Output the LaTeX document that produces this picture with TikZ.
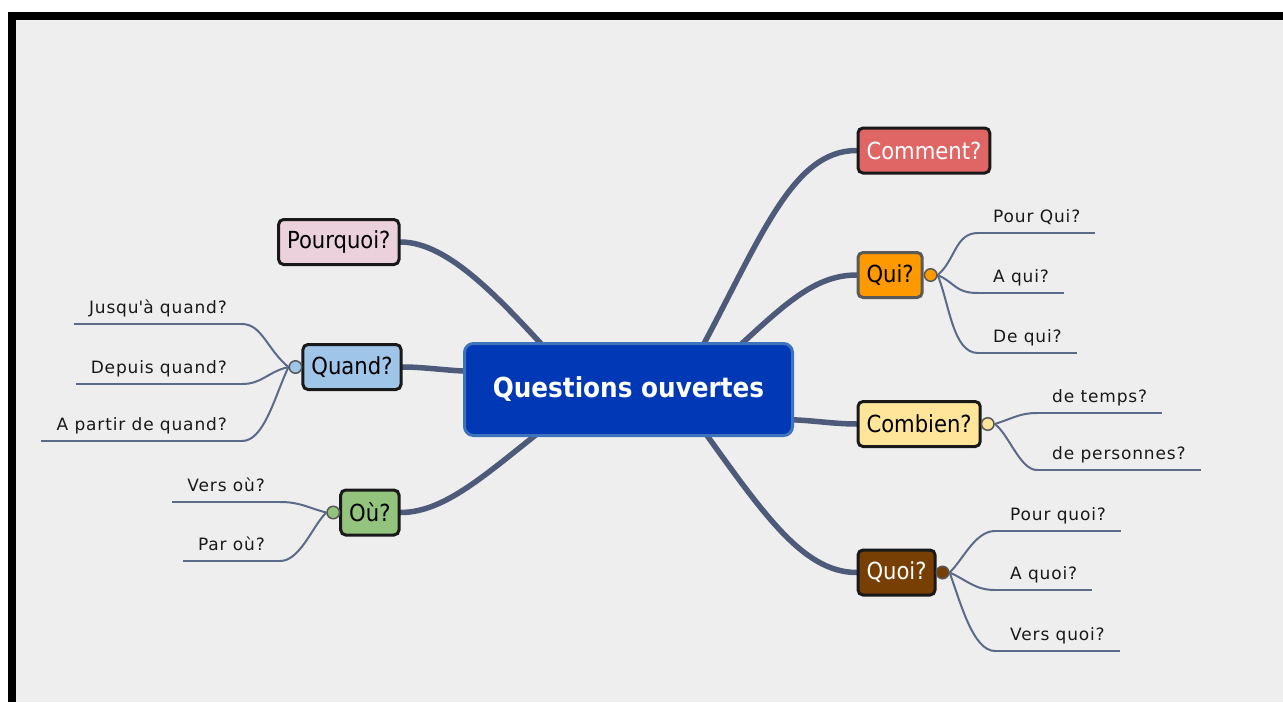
\documentclass[tikz,border=0pt]{standalone}
\usepackage{fontspec}
\usetikzlibrary{backgrounds,calc}
\newfontfamily\boxfont{DejaVu Sans Condensed}
\newfontfamily\leaffont[LetterSpace=5]{DejaVu Sans}
\definecolor{paper}{HTML}{EEEEEE}
\definecolor{branchcol}{HTML}{4E5A7A}
\definecolor{twigcol}{HTML}{5C6A8A}
\definecolor{coreblue}{HTML}{0038B6}
\definecolor{coreedge}{HTML}{3D72BC}
\definecolor{commentred}{HTML}{E06666}
\definecolor{quiorange}{HTML}{FF9900}
\definecolor{combienyellow}{HTML}{FFE599}
\definecolor{quoibrown}{HTML}{783F04}
\definecolor{pourquoipink}{HTML}{EAD1DC}
\definecolor{quandblue}{HTML}{9FC5E8}
\definecolor{ougreen}{HTML}{93C47D}
\begin{document}
\begin{tikzpicture}[x=1pt,y=-1pt,
    core/.style={fill=coreblue,draw=coreedge,line width=3pt,rounded corners=9pt,
      minimum width=328pt,minimum height=92pt,text=white,
      font=\boxfont\bfseries\fontsize{27.5}{32}\selectfont},
    topic/.style={draw=black!90,line width=3pt,rounded corners=5pt,fill=#1,
      minimum height=45pt,inner xsep=8.5pt,inner ysep=0pt,
      font=\boxfont\fontsize{23.5}{27}\selectfont},
    knob/.style={circle,draw=black!65,fill=#1,line width=1.5pt,minimum size=12.5pt,inner sep=0pt},
    leaf/.style={inner xsep=15pt,inner ysep=10pt,text depth=0pt,text=black!90,
      font=\leaffont\fontsize{17}{20}\selectfont},
    branch/.style={draw=branchcol,line width=5.5pt,line cap=round},
    twig/.style={draw=twigcol,line width=2pt}]
  \useasboundingbox (0,0) rectangle (1283,702);
  % centre and main topics
  \node[core] (qo) at (628.5,389.5) {Questions ouvertes};
  \node[topic=commentred,text=white,anchor=west] (comment) at (856.5,150.5) {Comment?};
  \node[topic=quiorange,draw=black!65,anchor=west] (qui) at (856.5,275) {Qui?};
  \node[topic=combienyellow,anchor=west] (combien) at (856.5,424) {Combien?};
  \node[topic=quoibrown,text=white,anchor=west] (quoi) at (856.5,572.5) {Quoi?};
  \node[topic=pourquoipink,anchor=east] (pourquoi) at (400.5,242) {Pourquoi?};
  \node[topic=quandblue,anchor=east] (quand) at (402.5,367) {Quand?};
  \node[topic=ougreen,anchor=east] (ou) at (400.5,512.5) {Où?};
  % knobs
  \node[knob=quiorange,anchor=west] (quik) at ([xshift=0pt]qui.east) {};
  \node[knob=combienyellow,anchor=west] (combienk) at ([xshift=-1pt]combien.east) {};
  \node[knob=quoibrown,anchor=west] (quoik) at ([xshift=-1pt]quoi.east) {};
  \node[knob=quandblue,anchor=east] (quandk) at ([xshift=1pt]quand.west) {};
  \node[knob=ougreen,anchor=east] (ouk) at ([xshift=1pt]ou.west) {};
  % leaves
  \node[leaf,anchor=south west] (pourqui) at (978,233) {Pour Qui?};
  \node[leaf,anchor=south west] (aqui) at (978,293) {A qui?};
  \node[leaf,anchor=south west] (dequi) at (978,353) {De qui?};
  \node[leaf,anchor=south west] (detemps) at (1037,413) {de temps?};
  \node[leaf,anchor=south west] (depers) at (1037,470) {de personnes?};
  \node[leaf,anchor=south west] (pourquoileaf) at (995,531) {Pour quoi?};
  \node[leaf,anchor=south west] (aquoi) at (995,590) {A quoi?};
  \node[leaf,anchor=south west] (versquoi) at (995,651) {Vers quoi?};
  \node[leaf,anchor=south east] (jusqua) at (242,324) {Jusqu\textquotesingle à quand?};
  \node[leaf,anchor=south east] (depuis) at (242,384) {Depuis quand?};
  \node[leaf,anchor=south east] (apartir) at (242,441) {A partir de quand?};
  \node[leaf,anchor=south east] (versou) at (280,502) {Vers où?};
  \node[leaf,anchor=south east] (parou) at (280,561) {Par où?};
  \begin{scope}[on background layer]
    % frame
    \fill[paper] (16,20) rectangle (1283,702);
    \fill[black] (8,12) rectangle (1283,20);
    \fill[black] (8,12) rectangle (16,702);
    % main branches
    \draw[branch] ($(qo.center)+(67,-30)$) .. controls +(65,-120) and +(-65,0) .. (comment.west);
    \draw[branch] ($(qo.center)+(96,-30)$) .. controls +(55,-50) and +(-45,0) .. (qui.west);
    \draw[branch] ($(qo.center)+(151,30)$) .. controls +(30,0) and +(-25,0) .. (combien.west);
    \draw[branch] ($(qo.center)+(67,30)$) .. controls +(65,90) and +(-55,0) .. (quoi.west);
    \draw[branch] ($(qo.center)+(-73,-30)$) .. controls +(-55,-60) and +(48,0) .. (pourquoi.east);
    \draw[branch] ($(qo.center)+(-148,-18)$) .. controls +(-30,0) and +(25,0) .. (quand.east);
    \draw[branch] ($(qo.center)+(-73,30)$) .. controls +(-65,50) and +(47,0) .. (ou.east);
    % twigs
    \draw[twig] (quik.east) .. controls +(18,-15) and +(-23,0) .. (pourqui.south west);
    \draw[twig] (quik.east) .. controls +(18,8) and +(-23,0) .. (aqui.south west);
    \draw[twig] (quik.east) .. controls +(12,30) and +(-25,0) .. (dequi.south west);
    \draw[twig] (combienk.east) .. controls +(19,-6) and +(-17,0) .. (detemps.south west);
    \draw[twig] (combienk.east) .. controls +(14,10) and +(-17,0) .. (depers.south west);
    \draw[twig] (quoik.east) .. controls +(13,-12) and +(-20,0) .. (pourquoileaf.south west);
    \draw[twig] (quoik.east) .. controls +(18,8) and +(-20,0) .. (aquoi.south west);
    \draw[twig] (quoik.east) .. controls +(11,30) and +(-22,0) .. (versquoi.south west);
    \draw[twig] (quandk.west) .. controls +(-21,-17) and +(20,0) .. (jusqua.south east);
    \draw[twig] (quandk.west) .. controls +(-21,5) and +(20,0) .. (depuis.south east);
    \draw[twig] (quandk.west) .. controls +(-14,30) and +(22,0) .. (apartir.south east);
    \draw[twig] (ouk.west) .. controls +(-19,-5) and +(20,0) .. (versou.south east);
    \draw[twig] (ouk.west) .. controls +(-14,14) and +(20,0) .. (parou.south east);
    \foreach \n in {pourqui,aqui,dequi,detemps,depers,pourquoileaf,aquoi,versquoi,jusqua,depuis,apartir,versou,parou}
      \draw[twig] (\n.south west) -- (\n.south east);
  \end{scope}
\end{tikzpicture}
\end{document}
